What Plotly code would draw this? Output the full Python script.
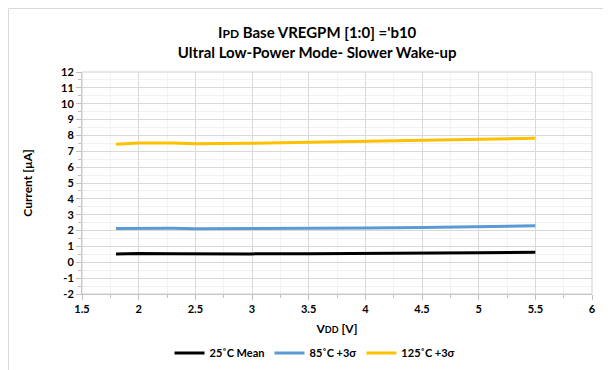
import plotly.graph_objects as go

vdd = [1.8, 2.0, 2.3, 2.5, 3.0, 3.5, 4.0, 4.5, 5.0, 5.5]
mean_25c = [0.52, 0.55, 0.54, 0.53, 0.53, 0.54, 0.55, 0.57, 0.60, 0.63]
plus3s_85c = [2.13, 2.15, 2.14, 2.12, 2.12, 2.14, 2.16, 2.19, 2.23, 2.30]
plus3s_125c = [7.45, 7.52, 7.53, 7.48, 7.50, 7.56, 7.62, 7.68, 7.74, 7.82]

y_tickvals = [-2, -1, 0, 1, 2, 3, 4, 5, 6, 7, 8, 9, 10, 11, 12]
y_ticktext = ["-2", "-1", "0", "1", "2", "3", "4", "5", "6", "7", "8", "9", "10", "11", "12"]

names = ["25˚C Mean", "85˚C +3σ", "125˚C +3σ"]
colors = ["#000000", "#5b9bd5", "#ffc000"]
series = [mean_25c, plus3s_85c, plus3s_125c]

FONT = "Lato"
W, H = 611, 370
ML, MR, MT, MB = 74, 27, 64, 84
PW, PH = W - ML - MR, H - MT - MB

fig = go.Figure()
for n, c, ys in zip(names, colors, series):
    fig.add_trace(go.Scatter(x=vdd, y=ys, mode="lines", name=n,
                             line=dict(color=c, width=3)))

fig.update_layout(
    width=W, height=H,
    margin=dict(l=ML, r=MR, t=MT, b=MB, autoexpand=False),
    paper_bgcolor="white", plot_bgcolor="white",
    font=dict(family=FONT, size=11, color="#000"),
    title=dict(
        text="<b>I<span style='font-size:12px'>PD</span> Base VREGPM [1:0] ='b10<br>Ultral Low-Power Mode- Slower Wake-up</b>",
        x=0.506, xanchor="center", xref="container", y=1 - 30 / H, yanchor="middle", yref="container",
        font=dict(family=FONT, size=15, color="#000"),
    ),
    showlegend=True,
    legend=dict(orientation="h", x=(307 - ML) / PW, xanchor="center", y=-(345 - (H - MB)) / PH, yanchor="middle",
                font=dict(family=FONT, size=11, color="#000", weight="bold"),
                itemwidth=30, tracegroupgap=0),
    xaxis=dict(
        range=[1.5, 6], dtick=0.5, tick0=1.5, automargin=False,
        showgrid=True, gridcolor="#d9d9d9", gridwidth=1,
        minor=dict(dtick=0.25, showgrid=True, gridcolor="#f2f2f2", ticks="outside", ticklen=3, tickcolor="#bfbfbf"),
        ticks="outside", ticklen=5, tickcolor="#bfbfbf",
        showline=True, linecolor="#bfbfbf", mirror=False,
        zeroline=False,
        tickfont=dict(family=FONT, size=11, color="#000", weight="bold"),
        title=dict(text="<b>V<span style='font-size:9px'>DD</span> [V]</b>", font=dict(family=FONT, size=12), standoff=10),
    ),
    yaxis=dict(
        range=[-2, 12], tickvals=y_tickvals, ticktext=y_ticktext, automargin=False,
        showgrid=True, gridcolor="#d9d9d9", gridwidth=1,
        minor=dict(dtick=0.5, tick0=0, showgrid=True, gridcolor="#f2f2f2", ticks="outside", ticklen=3, tickcolor="#bfbfbf"),
        ticks="outside", ticklen=5, tickcolor="#bfbfbf",
        showline=True, linecolor="#bfbfbf",
        zeroline=False,
        tickfont=dict(family=FONT, size=11, color="#000", weight="bold"),
        title=dict(text="<b>Current [µA]</b>", font=dict(family=FONT, size=12), standoff=25),
    ),
    shapes=[
        dict(type="rect", xref="paper", yref="paper", x0=0, x1=1, y0=0, y1=1,
             line=dict(color="#d0d0d0", width=1)),
        dict(type="line", xref="paper", yref="paper", x0=-(ML - 0.5) / PW, x1=(W - ML) / PW, y0=(H - MB - 0.5) / PH, y1=(H - MB - 0.5) / PH,
             line=dict(color="#d9d9d9", width=1)),
        dict(type="line", xref="paper", yref="paper", x0=-(ML - 0.5) / PW, x1=-(ML - 0.5) / PW, y0=(H - MB - 0.5) / PH, y1=-MB / PH,
             line=dict(color="#d9d9d9", width=1)),
    ],
)

fig.write_html("out.html")
